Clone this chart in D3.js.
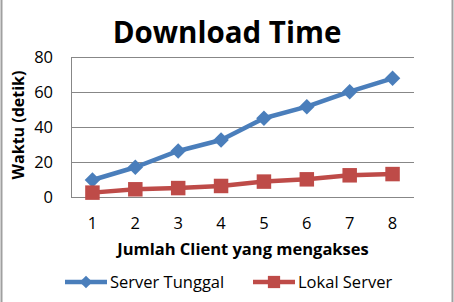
<!DOCTYPE html>
<html lang="en">
<head>
    <meta charset="UTF-8">
    <title>Download Time</title>
    <script src="https://cdn.jsdelivr.net/npm/d3@7"></script>
    <style>
        body { margin: 0; background: #fff; }
        text { font-family: "Open Sans", sans-serif; }
    </style>
</head>
<body>
    <svg id="svg"></svg>
    <script>
        const clients = ["1", "2", "3", "4", "5", "6", "7", "8"];
        const serverTunggal = [9.7, 17, 26.3, 32.6, 45, 51.6, 60.2, 67.8];
        const lokalServer = [2.5, 4.4, 5.1, 6.3, 8.8, 10.1, 12.4, 13.1];
        const yTicks = [0, 20, 40, 60, 80];

        const width = 454;
        const height = 302;
        const margin = {top: 57, right: 40, bottom: 105, left: 71};

        const svg = d3.select("#svg")
            .attr('width', width)
            .attr('height', height);

        // chart border
        svg.append('line').attr('x1', 1.5).attr('x2', 1.5).attr('y1', 0).attr('y2', height)
            .attr('stroke', '#a0a0a0').attr('stroke-width', 2);
        svg.append('line').attr('x1', 452.5).attr('x2', 452.5).attr('y1', 0).attr('y2', height)
            .attr('stroke', '#a0a0a0').attr('stroke-width', 2);

        const x = d3.scaleBand()
            .domain(clients)
            .range([margin.left, width - margin.right]);
        const y = d3.scaleLinear()
            .domain([0, 80])
            .range([height - margin.bottom, margin.top]);

        // gridlines
        svg.append('g')
            .selectAll('line')
            .data(yTicks)
            .enter()
            .append('line')
            .attr('x1', margin.left)
            .attr('x2', width - margin.right)
            .attr('y1', d => Math.round(y(d)) + 0.5)
            .attr('y2', d => Math.round(y(d)) + 0.5)
            .attr('stroke', '#878787')
            .attr('stroke-width', 1);

        // y axis line
        svg.append('line')
            .attr('x1', margin.left + 0.5).attr('x2', margin.left + 0.5)
            .attr('y1', y(80)).attr('y2', y(0))
            .attr('stroke', '#878787');

        // y tick labels
        svg.append('g')
            .selectAll('text')
            .data(yTicks)
            .enter()
            .append('text')
            .attr('x', margin.left - 18)
            .attr('y', d => y(d))
            .attr('dy', '0.35em')
            .attr('text-anchor', 'end')
            .attr('font-size', 16.5)
            .text(d => d);

        // x tick labels
        svg.append('g')
            .selectAll('text')
            .data(clients)
            .enter()
            .append('text')
            .attr('x', d => x(d) + x.bandwidth() / 2)
            .attr('y', 229)
            .attr('text-anchor', 'middle')
            .attr('font-size', 16.5)
            .text(d => d);

        // titles
        svg.append('text')
            .attr('x', 227)
            .attr('y', 43)
            .attr('text-anchor', 'middle')
            .attr('font-size', 29.5)
            .attr('font-weight', 'bold')
            .text('Download Time');

        svg.append('text')
            .attr('x', 243)
            .attr('y', 255)
            .attr('text-anchor', 'middle')
            .attr('font-size', 16.5)
            .attr('font-weight', 'bold')
            .text('Jumlah Client yang mengakses');

        svg.append('text')
            .attr('transform', 'translate(24,125) rotate(-90)')
            .attr('text-anchor', 'middle')
            .attr('font-size', 16)
            .attr('font-weight', 'bold')
            .text('Waktu (detik)');

        const line = d3.line()
            .x((d, i) => x(clients[i]) + x.bandwidth() / 2)
            .y(d => y(d));

        // diamond = square turned 45 degrees
        const series = [
            {name: 'Server Tunggal', values: serverTunggal, color: '#4a7ebb', rotate: 45, size: 120, legendSize: 80},
            {name: 'Lokal Server', values: lokalServer, color: '#be4b48', rotate: 0, size: 210, legendSize: 150}
        ];

        series.forEach(function(s) {
            svg.append('path')
                .attr('d', line(s.values))
                .attr('fill', 'none')
                .attr('stroke', s.color)
                .attr('stroke-width', 4.5)
                .attr('stroke-linejoin', 'round');
            svg.append('g')
                .selectAll('path')
                .data(s.values)
                .enter()
                .append('path')
                .attr('transform', (d, i) => 'translate(' + (x(clients[i]) + x.bandwidth() / 2) + ',' + y(d) + ') rotate(' + s.rotate + ')')
                .attr('d', d3.symbol().type(d3.symbolSquare).size(s.size))
                .attr('fill', s.color);
        });

        // legend
        const legendX = [65, 253];
        series.forEach(function(s, i) {
            const g = svg.append('g').attr('transform', 'translate(' + legendX[i] + ',282)');
            g.append('line').attr('x1', 0).attr('x2', 42).attr('y1', 0).attr('y2', 0)
                .attr('stroke', s.color).attr('stroke-width', 4.5);
            g.append('path').attr('transform', 'translate(21,0) rotate(' + s.rotate + ')')
                .attr('d', d3.symbol().type(d3.symbolSquare).size(s.legendSize))
                .attr('fill', s.color);
            g.append('text').attr('x', 45).attr('y', 0).attr('dy', '0.35em')
                .attr('font-size', 16.5)
                .text(s.name);
        });
    </script>
</body>
</html>
